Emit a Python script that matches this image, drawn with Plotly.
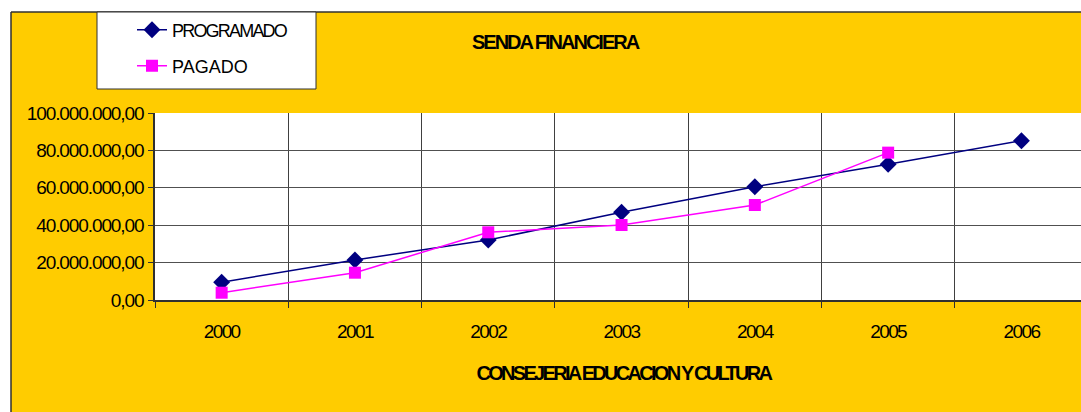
import plotly.graph_objects as go

# Annual figures, SENDA FINANCIERA
years = ["2000", "2001", "2002", "2003", "2004", "2005", "2006"]
programado = [9.5e6, 21.4e6, 32.1e6, 46.9e6, 60.6e6, 72.6e6, 85.2e6]
pagado = [3.9e6, 14.6e6, 36.2e6, 40.1e6, 50.8e6, 78.8e6]
y_ticks = [0, 20e6, 40e6, 60e6, 80e6, 100e6]

FONT = "Liberation Sans, Arial, sans-serif"
YELLOW = "#FFCC00"

W, H = 1081, 412
L, R, T, B = 155, 0, 113, 112
PW, PH = W - L - R, H - T - B


def px(x):
    return (x - L) / PW


def py(y):
    return (H - B - y) / PH


fig = go.Figure()
fig.add_trace(go.Scatter(
    x=years, y=programado, name="PROGRAMADO", mode="lines+markers",
    line=dict(color="#000080", width=1.5),
    marker=dict(symbol="diamond", size=13, color="#000080"),
    legend="legend",
))
fig.add_trace(go.Scatter(
    x=years[:len(pagado)], y=pagado, name="PAGADO", mode="lines+markers",
    line=dict(color="#FF00FF", width=1.5),
    marker=dict(symbol="square", size=12, color="#FF00FF"),
    legend="legend2",
))

shapes = [
    # white strips outside the chart frame
    dict(type="rect", xref="paper", yref="paper", x0=px(0), x1=px(W), y0=py(0), y1=py(12),
         fillcolor="white", line_width=0, layer="below"),
    dict(type="rect", xref="paper", yref="paper", x0=px(0), x1=px(11), y0=py(0), y1=py(H),
         fillcolor="white", line_width=0, layer="below"),
    # chart frame edges
    dict(type="line", xref="paper", yref="paper", x0=px(11), x1=px(W), y0=py(12), y1=py(12),
         line=dict(color="#303030", width=1.5)),
    dict(type="line", xref="paper", yref="paper", x0=px(11), x1=px(11), y0=py(12), y1=py(H),
         line=dict(color="#303030", width=1.5)),
    # legend box
    dict(type="rect", xref="paper", yref="paper", x0=px(97), x1=px(316), y0=py(12), y1=py(89),
         fillcolor="white", line=dict(color="#303030", width=1)),
]

legend_common = dict(
    bgcolor="rgba(0,0,0,0)", borderwidth=0,
    font=dict(family=FONT, size=18, color="black"),
    xanchor="left", yanchor="middle",
)

fig.update_layout(
    width=W, height=H,
    margin=dict(l=L, r=R, t=T, b=B),
    paper_bgcolor=YELLOW, plot_bgcolor="white",
    separators=",.",
    showlegend=True,
    legend=dict(x=px(132), y=py(30), **legend_common),
    legend2=dict(x=px(132), y=py(66), **legend_common),
    shapes=shapes,
    font=dict(family=FONT, color="black"),
    xaxis=dict(
        type="category", tickson="boundaries",
        range=[-0.5, -0.5 + PW / 133.3],
        showgrid=True, gridcolor="#404040", gridwidth=1,
        showline=True, linecolor="#303030", linewidth=1.5,
        ticks="outside", ticklen=6, tickcolor="#303030",
        tickfont=dict(family=FONT, size=19, color="black"),
        ticklabelstandoff=13,
        fixedrange=True,
    ),
    yaxis=dict(
        range=[0, 100e6], tickvals=y_ticks, tickformat=",.2f",
        showgrid=True, gridcolor="#505050", gridwidth=1,
        showline=True, linecolor="#303030", linewidth=1.5,
        ticks="outside", ticklen=5, tickcolor="#303030",
        tickfont=dict(family=FONT, size=19, color="black"),
        ticklabelstandoff=1,
        zeroline=False, fixedrange=True,
    ),
    annotations=[
        dict(text="<b>SENDA FINANCIERA</b>", xref="paper", yref="paper",
             x=px(555), y=py(42), showarrow=False, xanchor="center", yanchor="middle",
             font=dict(family=FONT, size=20, color="black")),
        dict(text="<b>CONSEJERIA EDUCACION Y CULTURA</b>", xref="paper", yref="paper",
             x=px(623), y=py(373), showarrow=False, xanchor="center", yanchor="middle",
             font=dict(family=FONT, size=20, color="black")),
    ],
)

# Tight letter spacing for the chart's condensed lettering
tighten_js = """
var gd = document.getElementById('{plot_id}');
function tighten() {
  var rules = [
    ['.ytick text', '-1.1px'],
    ['.xtick text', '-1.6px'],
    ['.legendtext', '-1.8px'],
    ['.annotation[data-index="0"] .annotation-text', '-2.0px'],
    ['.annotation[data-index="1"] .annotation-text', '-2.7px']
  ];
  rules.forEach(function (r) {
    gd.querySelectorAll(r[0]).forEach(function (t) { t.style.letterSpacing = r[1]; });
  });
}
tighten();
gd.on('plotly_afterplot', tighten);
"""

fig.write_html("out.html", config={"displayModeBar": False}, post_script=tighten_js)
